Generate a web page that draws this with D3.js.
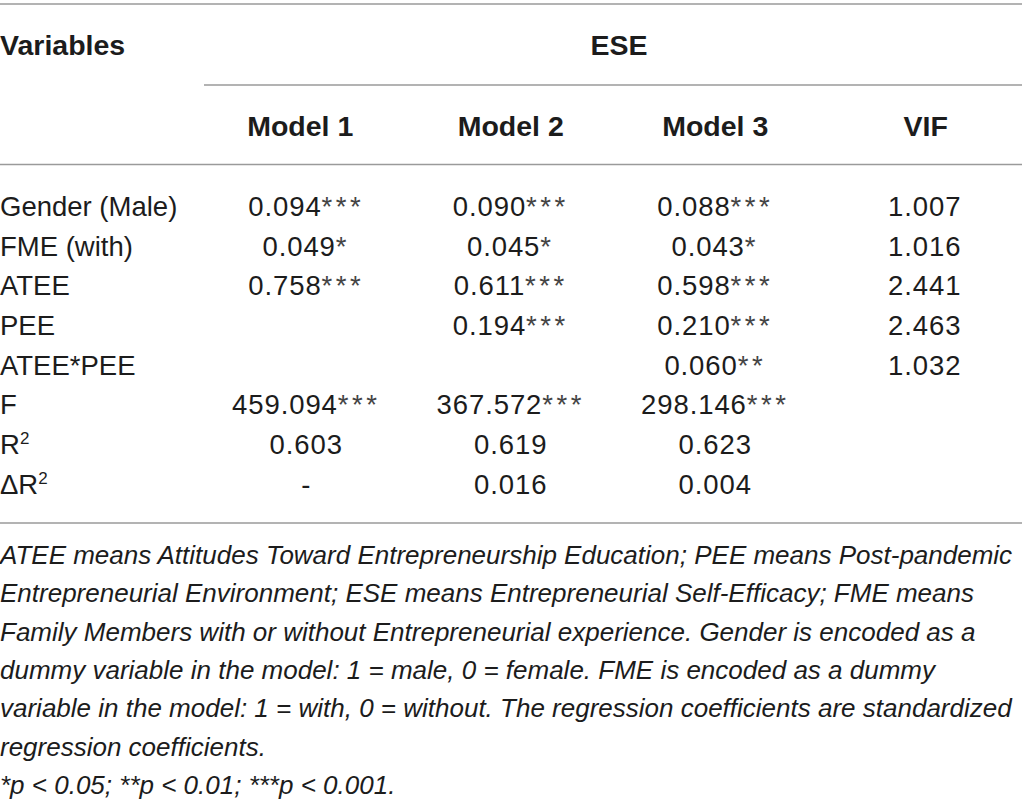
<!DOCTYPE html>
<html>
<head>
<meta charset="utf-8">
<script src="https://cdn.jsdelivr.net/npm/d3@7"></script>
<style>
  html, body { margin: 0; padding: 0; background: #fff; }
  svg { display: block; }
  text { font-family: "Liberation Sans", Arial, Helvetica, sans-serif; fill: #1c1c1c; }
</style>
</head>
<body>
<svg id="chart"></svg>
<script>
// --- table content ---
var columns = ["Model 1", "Model 2", "Model 3", "VIF"];
var rowLabels = ["Gender (Male)", "FME (with)", "ATEE", "PEE", "ATEE*PEE", "F", "R2", "ΔR2"];
var model1 = ["0.094***", "0.049*", "0.758***", "", "", "459.094***", "0.603", "-"];
var model2 = ["0.090***", "0.045*", "0.611***", "0.194***", "", "367.572***", "0.619", "0.016"];
var model3 = ["0.088***", "0.043*", "0.598***", "0.210***", "0.060**", "298.146***", "0.623", "0.004"];
var vif = ["1.007", "1.016", "2.441", "2.463", "1.032", "", "", ""];
var footnotes = [
    "ATEE means Attitudes Toward Entrepreneurship Education; PEE means Post-pandemic",
    "Entrepreneurial Environment; ESE means Entrepreneurial Self-Efficacy; FME means",
    "Family Members with or without Entrepreneurial experience. Gender is encoded as a",
    "dummy variable in the model: 1 = male, 0 = female. FME is encoded as a dummy",
    "variable in the model: 1 = with, 0 = without. The regression coefficients are standardized",
    "regression coefficients.",
    "*p < 0.05; **p < 0.01; ***p < 0.001."
];

var width = 1022, height = 806;
var svg = d3.select("#chart").attr("width", width).attr("height", height);

var fontSize = 27.5;
var headSize = 28.5;
var lineColor = "#9a9a9a";

// column positions
var x = d3.scaleBand().domain(columns).range([204, 1022]);
var colCenter = function (c) { return x(c) + x.bandwidth() / 2; };

// row positions (baselines)
var y = d3.scalePoint().domain(d3.range(rowLabels.length)).range([216, 493.5]);

// rules
var rules = [
    { x1: 0, x2: width, y: 4 },
    { x1: 204, x2: width, y: 85 },
    { x1: 0, x2: width, y: 164.5 },
    { x1: 0, x2: width, y: 523 }
];
svg.selectAll("line.rule")
    .data(rules)
    .enter().append("line")
    .attr("class", "rule")
    .attr("x1", function (d) { return d.x1; })
    .attr("x2", function (d) { return d.x2; })
    .attr("y1", function (d) { return d.y; })
    .attr("y2", function (d) { return d.y; })
    .style("stroke", lineColor)
    .style("stroke-width", 1.6);

// header
svg.append("text")
    .attr("x", 0).attr("y", 55)
    .style("font-size", headSize + "px").style("font-weight", "bold")
    .text("Variables");

svg.append("text")
    .attr("x", (204 + width) / 2 + 6).attr("y", 55)
    .attr("text-anchor", "middle")
    .style("font-size", headSize + "px").style("font-weight", "bold")
    .text("ESE");

svg.selectAll("text.colhead")
    .data(columns)
    .enter().append("text")
    .attr("class", "colhead")
    .attr("x", function (d) { return colCenter(d) + (d === "Model 1" ? -6 : 0) + (d === "VIF" ? 6 : 0); })
    .attr("y", 136)
    .attr("text-anchor", "middle")
    .style("font-size", headSize + "px").style("font-weight", "bold")
    .text(function (d) { return d; });

// row labels (R2 with superscript)
var labels = svg.selectAll("text.rowlabel")
    .data(rowLabels)
    .enter().append("text")
    .attr("class", "rowlabel")
    .attr("x", 0)
    .attr("y", function (d, i) { return y(i); })
    .style("font-size", fontSize + "px");

labels.each(function (d) {
    var t = d3.select(this);
    if (/R2$/.test(d)) {
        t.append("tspan").text(d.slice(0, -1));
        t.append("tspan").attr("dy", -10).style("font-size", "17px").text("2");
    } else {
        t.text(d);
    }
});

// cells: number part + star part (stars are set wider)
var series = [model1, model2, model3, vif];
series.forEach(function (vals, ci) {
    var col = columns[ci];
    var cells = svg.selectAll("text.cell-" + ci)
        .data(vals)
        .enter().append("text")
        .attr("class", "cell-" + ci)
        .attr("x", colCenter(col) + (col === "VIF" ? 5 : 0))
        .attr("y", function (d, i) { return y(i); })
        .attr("text-anchor", "middle")
        .style("font-size", fontSize + "px");

    cells.each(function (d) {
        var t = d3.select(this);
        var m = d.match(/^([^*]*)(\**)$/);
        t.append("tspan").style("letter-spacing", "0.9px").text(m[1]);
        if (m[2]) {
            t.append("tspan")
                .style("letter-spacing", "3.5px")
                .style("fill", "#444")
                .text(m[2]);
        }
    });
});

// notes
var ny = d3.scalePoint().domain(d3.range(footnotes.length)).range([564, 794]);
svg.selectAll("text.note")
    .data(footnotes)
    .enter().append("text")
    .attr("class", "note")
    .attr("x", 0)
    .attr("y", function (d, i) { return ny(i); })
    .style("font-size", "26px")
    .style("font-style", "italic")
    .text(function (d) { return d; });
</script>
</body>
</html>
